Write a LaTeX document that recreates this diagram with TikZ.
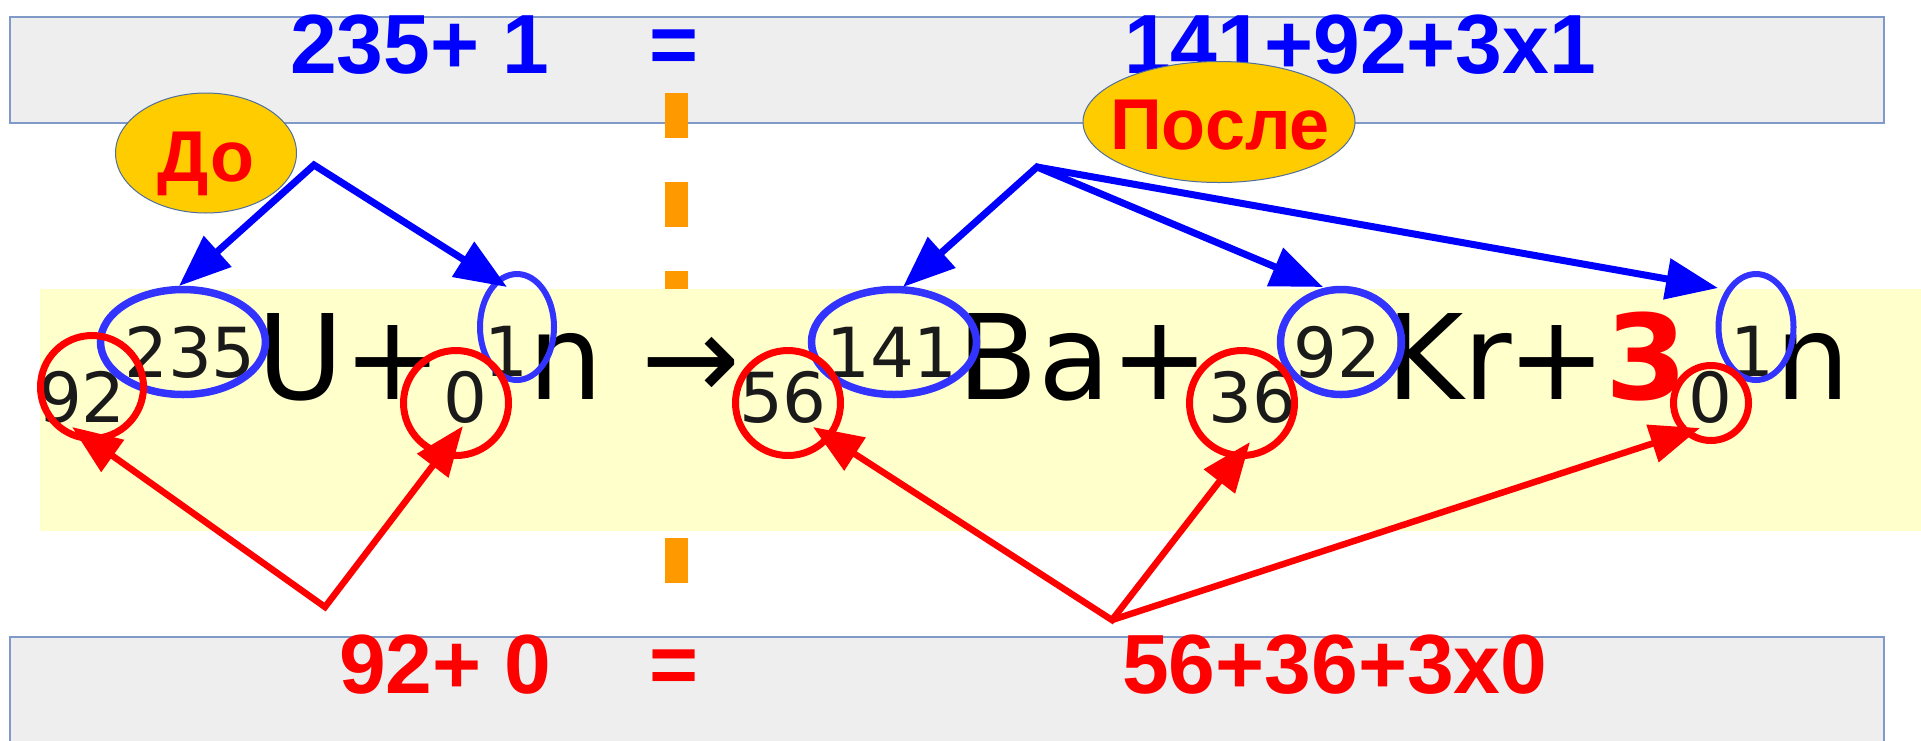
\documentclass[tikz,border=0pt]{standalone}
\usepackage{fontspec}
\setmainfont{DejaVu Sans}
\newfontfamily\arl{Liberation Sans}
\usetikzlibrary{arrows.meta,shapes.geometric}
\definecolor{boxgray}{HTML}{EEEEEE}
\definecolor{boxline}{HTML}{7F9AC8}
\definecolor{band}{HTML}{FFFFCC}
\definecolor{dashor}{HTML}{FF9900}
\definecolor{gold}{HTML}{FFCC00}
\definecolor{ringblue}{HTML}{3333FF}
\definecolor{arrblue}{HTML}{0000FF}
\definecolor{numgray}{HTML}{1A1A1A}
\definecolor{goldline}{HTML}{4F6F9F}
\newcommand\myfs[1]{\fontsize{#1}{#1}\selectfont}
\begin{document}
\begin{tikzpicture}[x=1pt,y=-1pt,
  hd/.style={inner sep=0pt, anchor=base west, font=\arl\bfseries\myfs{84}},
  tagtxt/.style={inner sep=0pt, anchor=base, text=red, font=\arl\bfseries\myfs{72}},
  big/.style={inner sep=0pt, anchor=base, font=\myfs{118}},
  sml/.style={inner sep=0pt, anchor=base, font=\myfs{69}, text=numgray},
  bring/.style={draw=ringblue, line width=7.5pt, ellipse, inner sep=0pt},
  rring/.style={draw=red, line width=7pt, circle, inner sep=0pt},
  tag/.style={ellipse, fill=gold, draw=goldline, line width=1pt, inner sep=0pt},
  bline/.style={draw=arrblue, line width=7pt},
  rline/.style={draw=red, line width=6.5pt},
  btip/.tip={Triangle[length=52pt,width=40pt]},
  rtip/.tip={Triangle[length=50pt,width=38pt]},
]
\useasboundingbox (0,0) rectangle (1921,740);
\clip (0,0) rectangle (1921,740);
\fill[white] (0,0) rectangle (1921,740);

% grey boxes
\path[fill=boxgray, draw=boxline, line width=1.5pt] (10,17) rectangle (1884,123);
\path[fill=boxgray, draw=boxline, line width=1.5pt] (10,637) rectangle (1884,760);

% headings
\node[hd, text=arrblue] (sumA) at (290,73) {235+ 1};
\node[hd, text=arrblue, anchor=base] (eqA) at (674,73) {=};
\node[hd, text=arrblue] (sumB) at (1124,73) {141+92+3x1};
\node[hd, text=red] (sumC) at (339,693) {92+ 0};
\node[hd, text=red, anchor=base] (eqC) at (674,693) {=};
\node[hd, text=red] (sumD) at (1122,693) {56+36+3x0};

% orange dashed divider
\draw[dashor, line width=23pt, dash pattern=on 45pt off 44pt] (676,93) -- (676,584);

% yellow band
\fill[band] (40,289) rectangle (1921,531);

% equation
\node[sml] (z92) at (82,422) {92};
\node[sml] (a235) at (190,377) {235};
\node[big] (U) at (301,399) {U};
\node[big] (plA) at (393,399) {+};
\node[sml] (z0a) at (465,422) {0};
\node[sml] (a1a) at (506,376) {1};
\node[big] (nA) at (566,399) {n};
\node[big] (arr) at (691,399) {→};
\node[sml] (z56) at (783,422) {56};
\node[sml] (a141) at (892,377) {141};
\node[big] (Ba) at (1034,399) {Ba};
\node[big] (plB) at (1160,399) {+};
\node[sml] (z36) at (1252,422) {36};
\node[sml] (a92) at (1337,377) {92};
\node[big] (Kr) at (1449,399) {Kr};
\node[big] (plC) at (1557,399) {+};
\node[big, text=red, font=\bfseries\myfs{118}] (three) at (1647,399) {3};
\node[sml] (z0b) at (1710,422) {0};
\node[sml] (a1b) at (1752,376) {1};
\node[big] (nB) at (1813,399) {n};

% blue rings (mass numbers)
\node[bring, minimum width=165pt, minimum height=105pt] (b235) at (183,342) {};
\node[bring, line width=6pt, minimum width=74pt, minimum height=106pt] (b1a) at (517,327) {};
\node[bring, minimum width=165pt, minimum height=105pt] (b141) at (894,342) {};
\node[bring, minimum width=121pt, minimum height=105pt] (b92) at (1341,342) {};
\node[bring, line width=6pt, minimum width=75pt, minimum height=106pt] (b1b) at (1756,327) {};

% red rings (charge numbers)
\node[rring, minimum size=103pt] (r92) at (92,387) {};
\node[rring, minimum size=105pt] (r0a) at (456,403) {};
\node[rring, minimum size=105pt] (r56) at (788,403) {};
\node[rring, minimum size=105pt] (r36) at (1242,403) {};
\node[rring, minimum size=75pt] (r0b) at (1711,403) {};

% connector points
\coordinate (apL) at (314,165);
\coordinate (apR) at (1037,167);
\coordinate (rpL) at (325,607);
\coordinate (rpR) at (1112,620);
\coordinate (tb235) at (179,286);
\coordinate (tb1a) at (507,287);
\coordinate (tb141) at (903,287);
\coordinate (tb92) at (1323,287);
\coordinate (tb1b) at (1718,288);
\coordinate (tr92) at (72,427);
\coordinate (tr0a) at (463,426);
\coordinate (tr56) at (813,427);
\coordinate (tr36) at (1250,442);
\coordinate (tr0b) at (1700,428);

% blue arrows
\draw[bline, btip-btip] (tb235) -- (apL) -- (tb1a);
\draw[bline, btip-btip] (tb141) -- (apR) -- (tb92);
\draw[bline, -btip] (apR) -- (tb1b);

% red arrows
\draw[rline, rtip-rtip] (tr92) -- (rpL) -- (tr0a);
\draw[rline, rtip-rtip] (tr56) -- (rpR) -- (tr36);
\draw[rline, -rtip] (rpR) -- (tr0b);

% tags
\node[tag, minimum width=181pt, minimum height=120pt] (tagA) at (206,153) {};
\node[tagtxt] (tagAt) at (206,181) {До};
\node[tag, minimum width=272pt, minimum height=121pt] (tagB) at (1219,122) {};
\node[tagtxt] (tagBt) at (1220,149) {После};
\end{tikzpicture}
\end{document}
